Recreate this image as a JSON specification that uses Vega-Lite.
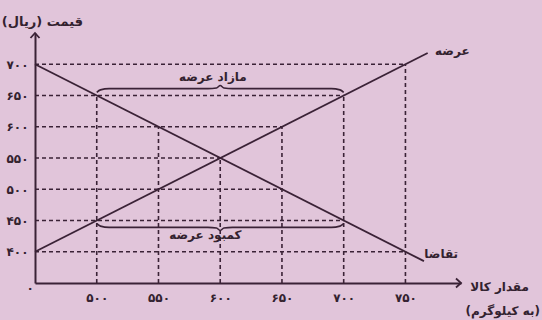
{
  "$schema": "https://vega.github.io/schema/vega-lite/v6.json",
  "width": 426,
  "height": 250,
  "autosize": {"type": "none"},
  "padding": {"left": 35, "top": 33, "right": 81, "bottom": 37},
  "background": "#E1C5DA",
  "config": {
    "view": {"stroke": null},
    "font": "DejaVu Sans",
    "text": {"font": "DejaVu Sans", "fontWeight": "bold", "color": "#33222f"}
  },
  "datasets": {
    "curves": [
      {"curve": "supply", "q": 450, "p": 400},
      {"curve": "supply", "q": 768, "p": 718},
      {"curve": "demand", "q": 450, "p": 700},
      {"curve": "demand", "q": 765, "p": 385}
    ],
    "hgrid": [
      {"p": 700, "q0": 450, "q1": 750},
      {"p": 650, "q0": 450, "q1": 700},
      {"p": 600, "q0": 450, "q1": 650},
      {"p": 550, "q0": 450, "q1": 600},
      {"p": 500, "q0": 450, "q1": 650},
      {"p": 450, "q0": 450, "q1": 700},
      {"p": 400, "q0": 450, "q1": 750}
    ],
    "vgrid": [
      {"q": 500, "p0": 350, "p1": 650},
      {"q": 550, "p0": 350, "p1": 600},
      {"q": 600, "p0": 350, "p1": 550},
      {"q": 650, "p0": 350, "p1": 600},
      {"q": 700, "p0": 350, "p1": 650},
      {"q": 750, "p0": 350, "p1": 700}
    ],
    "braces": [
      {"brace": "top", "i": 0, "q": 500, "p": 655},
      {"brace": "top", "i": 1, "q": 503, "p": 659},
      {"brace": "top", "i": 2, "q": 510, "p": 661},
      {"brace": "top", "i": 3, "q": 590, "p": 661},
      {"brace": "top", "i": 4, "q": 597, "p": 662},
      {"brace": "top", "i": 5, "q": 600, "p": 666},
      {"brace": "top", "i": 6, "q": 603, "p": 662},
      {"brace": "top", "i": 7, "q": 610, "p": 661},
      {"brace": "top", "i": 8, "q": 690, "p": 661},
      {"brace": "top", "i": 9, "q": 697, "p": 659},
      {"brace": "top", "i": 10, "q": 700, "p": 655},
      {"brace": "bottom", "i": 0, "q": 500, "p": 445},
      {"brace": "bottom", "i": 1, "q": 503, "p": 441},
      {"brace": "bottom", "i": 2, "q": 510, "p": 439},
      {"brace": "bottom", "i": 3, "q": 590, "p": 439},
      {"brace": "bottom", "i": 4, "q": 597, "p": 438},
      {"brace": "bottom", "i": 5, "q": 600, "p": 434},
      {"brace": "bottom", "i": 6, "q": 603, "p": 438},
      {"brace": "bottom", "i": 7, "q": 610, "p": 439},
      {"brace": "bottom", "i": 8, "q": 690, "p": 439},
      {"brace": "bottom", "i": 9, "q": 697, "p": 441},
      {"brace": "bottom", "i": 10, "q": 700, "p": 445}
    ],
    "labels": [
      {"q": 788, "p": 721, "text": "عرضه"},
      {"q": 779, "p": 396, "text": "تقاضا"},
      {"q": 594, "p": 680, "text": "مازاد عرضه"},
      {"q": 588, "p": 427, "text": "کمبود عرضه"},
      {"q": 446, "p": 342, "text": "۰"}
    ],
    "titles": [
      {"q": 456, "p": 767, "text": "قیمت (ریال)", "anchor": "center"},
      {"q": 850, "p": 344, "text": "مقدار کالا", "anchor": "right"},
      {"q": 859, "p": 305, "text": "(به کیلوگرم)", "anchor": "right"}
    ],
    "arrowX": [{"q": 795, "p": 350}],
    "arrowY": [{"q": 450, "p": 750}]
  },
  "layer": [
    {
      "data": {"name": "curves"},
      "mark": {"type": "line", "strokeWidth": 1.8, "color": "#3a2236"},
      "encoding": {
        "x": {
          "field": "q", "type": "quantitative",
          "scale": {"domain": [450, 795], "nice": false, "zero": false},
          "axis": {
            "values": [500, 550, 600, 650, 700, 750],
            "labelExpr": "['۵۰۰','۵۵۰','۶۰۰','۶۵۰','۷۰۰','۷۵۰'][(datum.value-500)/50]",
            "title": null, "grid": false, "ticks": false,
            "domainColor": "#3a2236", "domainWidth": 2,
            "labelFont": "DejaVu Sans", "labelFontWeight": "bold", "labelFontSize": 12,
            "labelColor": "#33222f", "labelPadding": 9
          }
        },
        "y": {
          "field": "p", "type": "quantitative",
          "scale": {"domain": [350, 750], "nice": false, "zero": false},
          "axis": {
            "values": [400, 450, 500, 550, 600, 650, 700],
            "labelExpr": "['۴۰۰','۴۵۰','۵۰۰','۵۵۰','۶۰۰','۶۵۰','۷۰۰'][(datum.value-400)/50]",
            "title": null, "grid": false, "ticks": false,
            "domainColor": "#3a2236", "domainWidth": 2,
            "labelFont": "DejaVu Sans", "labelFontWeight": "bold", "labelFontSize": 12,
            "labelColor": "#33222f", "labelPadding": 7
          }
        },
        "detail": {"field": "curve"}
      }
    },
    {
      "data": {"name": "hgrid"},
      "mark": {"type": "rule", "strokeDash": [4, 3], "strokeWidth": 1.6, "color": "#3a2236"},
      "encoding": {
        "x": {"field": "q0", "type": "quantitative"},
        "x2": {"field": "q1"},
        "y": {"field": "p", "type": "quantitative"}
      }
    },
    {
      "data": {"name": "vgrid"},
      "mark": {"type": "rule", "strokeDash": [4, 3], "strokeWidth": 1.6, "color": "#3a2236"},
      "encoding": {
        "x": {"field": "q", "type": "quantitative"},
        "y": {"field": "p0", "type": "quantitative"},
        "y2": {"field": "p1"}
      }
    },
    {
      "data": {"name": "braces"},
      "mark": {"type": "line", "strokeWidth": 1.6, "color": "#3a2236", "interpolate": "monotone"},
      "encoding": {
        "x": {"field": "q", "type": "quantitative"},
        "y": {"field": "p", "type": "quantitative"},
        "detail": {"field": "brace"},
        "order": {"field": "i"}
      }
    },
    {
      "data": {"name": "arrowX"},
      "mark": {"type": "point", "shape": "M-1,-0.9L0,0L-1,0.9", "size": 100, "filled": false, "strokeWidth": 1.8, "color": "#3a2236", "opacity": 1},
      "encoding": {
        "x": {"field": "q", "type": "quantitative"},
        "y": {"field": "p", "type": "quantitative"}
      }
    },
    {
      "data": {"name": "arrowY"},
      "mark": {"type": "point", "shape": "M-0.9,1L0,0L0.9,1", "size": 100, "filled": false, "strokeWidth": 1.8, "color": "#3a2236", "opacity": 1},
      "encoding": {
        "x": {"field": "q", "type": "quantitative"},
        "y": {"field": "p", "type": "quantitative"}
      }
    },
    {
      "data": {"name": "labels"},
      "mark": {"type": "text", "fontSize": 12, "align": "center", "baseline": "middle"},
      "encoding": {
        "x": {"field": "q", "type": "quantitative"},
        "y": {"field": "p", "type": "quantitative"},
        "text": {"field": "text"}
      }
    },
    {
      "data": {"name": "titles"},
      "transform": [{"filter": "datum.anchor == 'center'"}],
      "mark": {"type": "text", "fontSize": 13, "align": "center", "baseline": "middle"},
      "encoding": {
        "x": {"field": "q", "type": "quantitative"},
        "y": {"field": "p", "type": "quantitative"},
        "text": {"field": "text"}
      }
    },
    {
      "data": {"name": "titles"},
      "transform": [{"filter": "datum.anchor == 'right'"}],
      "mark": {"type": "text", "fontSize": 12, "align": "right", "baseline": "middle"},
      "encoding": {
        "x": {"field": "q", "type": "quantitative"},
        "y": {"field": "p", "type": "quantitative"},
        "text": {"field": "text"}
      }
    }
  ]
}
